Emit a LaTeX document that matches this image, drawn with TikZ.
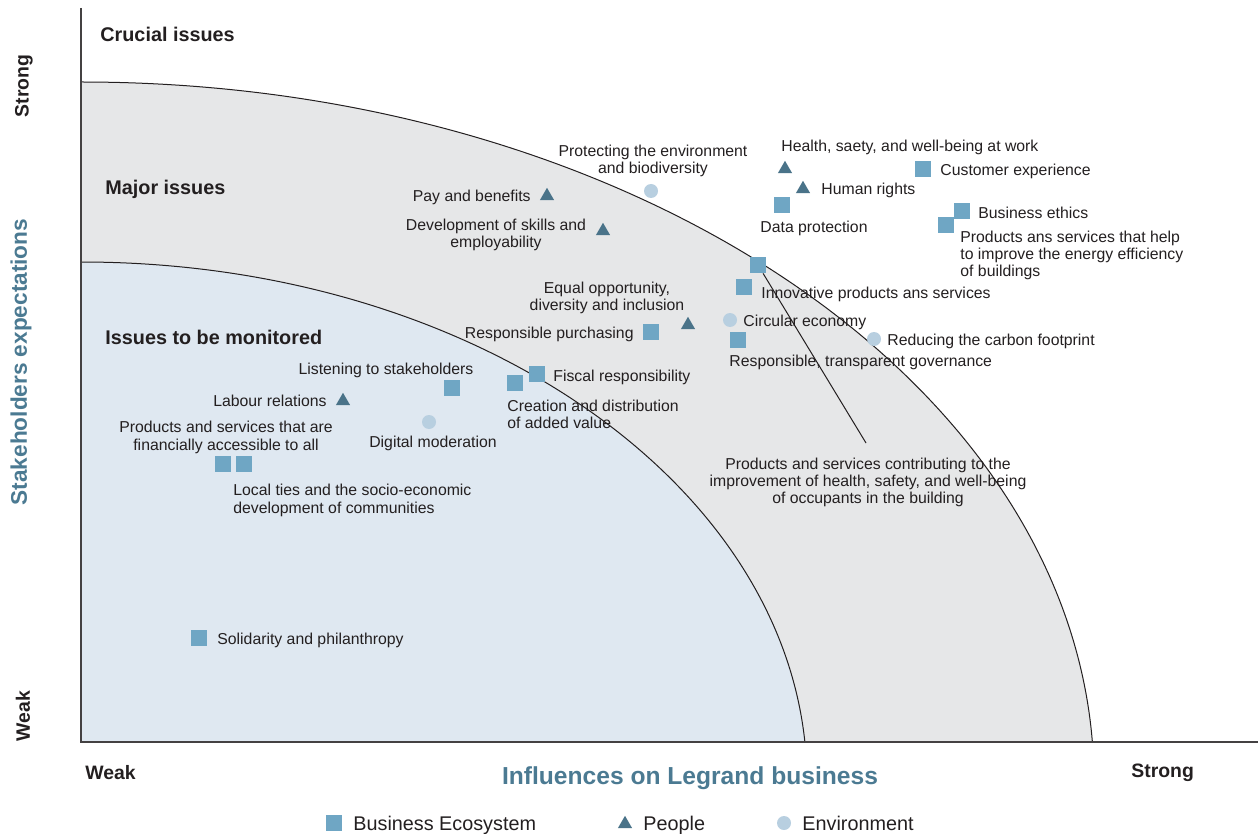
\documentclass[tikz,border=0pt]{standalone}
\usepackage{fontspec}
\setmainfont{Liberation Sans}
\usetikzlibrary{shapes.geometric}
\definecolor{ecocol}{HTML}{6FA6C4}
\definecolor{peoplecol}{HTML}{4A7389}
\definecolor{envcol}{HTML}{B8CFE0}
\definecolor{majorcol}{HTML}{E6E7E8}
\definecolor{watchcol}{HTML}{DFE8F1}
\definecolor{titlecol}{HTML}{4B7A92}
\definecolor{txtcol}{HTML}{231F20}
\begin{document}
\begin{tikzpicture}[x=0.5pt,y=-0.5pt,
	sq/.style={rectangle,fill=ecocol,minimum size=8pt,inner sep=0pt},
	tri/.style={regular polygon,regular polygon sides=3,fill=peoplecol,minimum size=8.2pt,inner sep=0pt,yshift=-1pt},
	circ/.style={circle,fill=envcol,minimum size=7pt,inner sep=0pt},
	lbl/.style={font=\fontsize{7.9}{8.6}\selectfont,text=txtcol,inner sep=0pt,yshift=-1pt},
	head/.style={font=\bfseries\fontsize{9.9}{12}\selectfont,text=txtcol,inner sep=0pt,yshift=-1pt},
	axlbl/.style={font=\bfseries\fontsize{9.7}{12}\selectfont,text=txtcol,inner sep=0pt},
	legend/.style={font=\fontsize{9.9}{12}\selectfont,text=txtcol,inner sep=0pt,anchor=base west}]
			\useasboundingbox (0,0) rectangle (1258,834);
			% zones
			\begin{scope}
				\clip (81,0) rectangle (1258,742);
				\filldraw[fill=majorcol,draw=txtcol,line width=0.5pt] (81,782) ellipse [x radius=1013, y radius=700];
				\filldraw[fill=watchcol,draw=txtcol,line width=0.5pt] (81,782) ellipse [x radius=726, y radius=520];
			\end{scope}
			\node[head,anchor=west] (crucial) at (100,32) {Crucial issues};
			\node[head,anchor=west] (major) at (105,187) {Major issues};
			\node[head,anchor=west] (watch) at (105,335) {Issues to be monitored};
			% axes
			\draw[txtcol!85,line width=0.8pt] (81,8) -- (81,742) -- (1258,742);
			\node[axlbl,rotate=90] (ystrong) at (24,86) {Strong};
			\node[axlbl,rotate=90] (yweak) at (23,716) {Weak};
			\node[font=\bfseries\fontsize{11.3}{12}\selectfont,text=titlecol,inner sep=0pt,rotate=90] (ytitle) at (21,362) {Stakeholders expectations};
			\node[axlbl,anchor=west,yshift=-1pt] (xweak) at (85,771) {Weak};
			\node[axlbl,anchor=west,yshift=-1pt] (xstrong) at (1131,771) {Strong};
			\node[font=\bfseries\fontsize{12.3}{14}\selectfont,text=titlecol,inner sep=0pt,yshift=-1pt] (xtitle) at (690,776) {Influences on Legrand business};
			% business ecosystem
			\foreach \n/\x/\y in {ce/923/169, dp/782/205, be/962/211, pe/946/225, ph/758/265, ip/744/287, rp/651/332,
				rg/738/340, fr/537/374, cd/515/383, ls/452/388, pa/223/464, lt/244/464, sp/199/638}
				\node[sq] (\n) at (\x,\y) {};
			\node[lbl,anchor=west] (ce-t) at (940,169) {Customer experience};
			\node[lbl] (dp-t) at (814,226) {Data protection};
			\node[lbl,anchor=west] (be-t) at (978,211) {Business ethics};
			\node[lbl,anchor=west,align=left] (pe-t) at (960,253.5) {Products ans services that help\\to improve the energy efficiency\\of buildings};
			\node[lbl,align=center] (ph-t) at (868,480.5) {Products and services contributing to the\\improvement of health, safety, and well-being\\of occupants in the building};
			\coordinate (ph-end) at (866,443);
			\draw[txtcol,line width=0.5pt] (ph) -- (ph-end);
			\node[lbl,anchor=west] (ip-t) at (761,292) {Innovative products ans services};
			\node[lbl,anchor=east] (rp-t) at (634,332) {Responsible purchasing};
			\node[lbl,anchor=west] (rg-t) at (729,360) {Responsible, transparent governance};
			\node[lbl,anchor=west] (fr-t) at (553,375) {Fiscal responsibility};
			\node[lbl,anchor=west,align=left] (cd-t) at (507,412) {Creation and distribution\\of added value};
			\node[lbl] (ls-t) at (386,368) {Listening to stakeholders};
			\node[lbl,align=center] (pa-t) at (226,435.5) {Products and services that are\\financially accessible to all};
			\node[lbl,anchor=west,align=left] (lt-t) at (233,498.5) {Local ties and the socio-economic\\development of communities};
			\node[lbl,anchor=west] (sp-t) at (217,638) {Solidarity and philanthropy};
			% people
			\foreach \n/\x/\y in {hs/785/167, hr/803/187, pb/547/194, ds/603/229, eo/688/323, lr/343/399}
				\node[tri] (\n) at (\x,\y) {};
			\node[lbl,anchor=west] (hs-t) at (781,145) {Health, saety, and well-being at work};
			\node[lbl,anchor=west] (hr-t) at (821,188) {Human rights};
			\node[lbl,anchor=east] (pb-t) at (531,195) {Pay and benefits};
			\node[lbl,align=center] (ds-t) at (496,233) {Development of skills and\\employability};
			\node[lbl,align=center] (eo-t) at (607,296) {Equal opportunity,\\diversity and inclusion};
			\node[lbl,anchor=east] (lr-t) at (327,399) {Labour relations};
			% environment
			\foreach \n/\x/\y in {pt/651/191, cv/730/320, cf/874/339, dm/429/422}
				\node[circ] (\n) at (\x,\y) {};
			\node[lbl,align=center] (pt-t) at (653,159) {Protecting the environment\\and biodiversity};
			\node[lbl,anchor=west] (cv-t) at (743,320) {Circular economy};
			\node[lbl,anchor=west] (cf-t) at (887,339) {Reducing the carbon footprint};
			\node[lbl] (dm-t) at (433,441) {Digital moderation};
			% legend
			\node[sq] (leg-sq) at (334,823) {};
			\node[legend] (leg-sq-t) at (353,830) {Business Ecosystem};
			\node[tri] (leg-tri) at (625,822) {};
			\node[legend] (leg-tri-t) at (643,830) {People};
			\node[circ] (leg-circ) at (784,823) {};
			\node[legend] (leg-circ-t) at (802,830) {Environment};
\end{tikzpicture}
\end{document}
